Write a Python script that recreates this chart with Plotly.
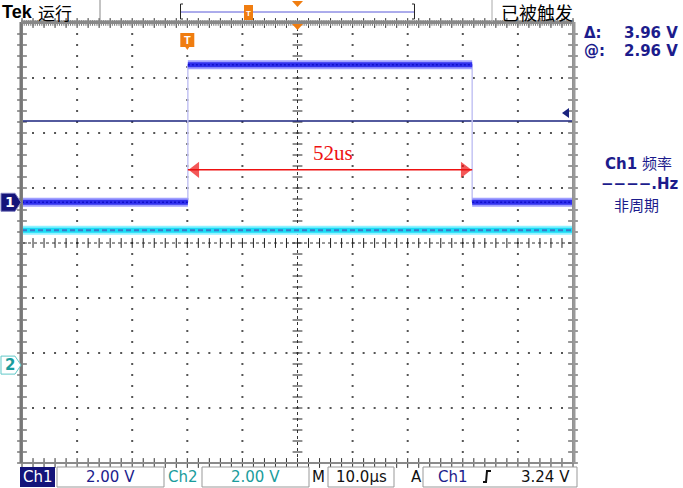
import numpy as np
import plotly.graph_objects as go

W, H = 683, 488
# ---------------- data ----------------
time_per_div_us = 10.0
volt_per_div = 2.0
ch1_edges_us = [-50.0, -19.9, 31.7, 50.0]      # segment boundaries of Ch1
ch1_levels_v = [0.0, 5.0, 0.0]                  # Ch1 level in each segment
ch1_offset_div = 0.74
ch2_span_us = [-50.0, 50.0]
ch2_level_v = 4.9
ch2_offset_div = -2.22
trigger_time_us = -20.0
trigger_level_v = 3.24
cursor_level_v = 2.96
pulse_start_us, pulse_end_us = -19.9, 31.7
pulse_label = "52us"
readout_delta = "3.96 V"
readout_at = "2.96 V"
ch1_scale_lbl = "2.00 V"
ch2_scale_lbl = "2.00 V"
time_scale_lbl = "10.0µs"
trig_lbl = "3.24 V"

# plot area in pixels
PL, PR, PT, PB = 22, 573, 23, 463


def px(x):
    return x / W


def py(y):
    return 1 - y / H


def ydiv(v, off):
    return v / volt_per_div + off


NAVY = "#1c1c8c"
TEAL = "#1a9c9c"
ORANGE = "#f07d10"

fig = go.Figure()

# ---------------- graticule ----------------
gx, gy = [], []
for i in range(-4, 5):
    if i == 0:
        continue
    for k in np.arange(-4, 4.001, 0.2):
        gx.append(i * time_per_div_us)
        gy.append(k)
for j in range(-3, 4):
    if j == 0:
        continue
    for k in np.arange(-50, 50.001, 2):
        gx.append(k)
        gy.append(j)
fig.add_trace(go.Scatter(x=gx, y=gy, mode="markers",
                         marker=dict(symbol="square", size=2, color="#555", line=dict(width=0)),
                         hoverinfo="skip"))
# center cross: dotted lines
fig.add_trace(go.Scatter(x=[0, 0], y=[-4, 4], mode="lines",
                         line=dict(color="#333", width=1, dash="dot"), hoverinfo="skip"))
fig.add_trace(go.Scatter(x=[-50, 50], y=[0, 0], mode="lines",
                         line=dict(color="#333", width=1, dash="dot"), hoverinfo="skip"))
cy = list(np.arange(-4, 4.001, 0.2))
fig.add_trace(go.Scatter(x=[0] * len(cy), y=cy, mode="markers",
                         marker=dict(symbol="line-ew", size=7, line=dict(color="#222", width=1)),
                         hoverinfo="skip"))
cx = list(np.arange(-50, 50.001, 2))
fig.add_trace(go.Scatter(x=cx, y=[0] * len(cx), mode="markers",
                         marker=dict(symbol="line-ns", size=7, line=dict(color="#222", width=1)),
                         hoverinfo="skip"))
# border ticks
fx = list(np.arange(-50, 50.001, 2))
fig.add_trace(go.Scatter(x=fx + fx, y=[4] * len(fx) + [-4] * len(fx), mode="markers",
                         marker=dict(symbol="line-ns", size=7, line=dict(color="#333", width=1)),
                         hoverinfo="skip", cliponaxis=False))
fine = list(np.arange(-50, 50.001, 0.4))
fig.add_trace(go.Scatter(x=fine, y=[4] * len(fine), mode="markers",
                         marker=dict(symbol="line-ns", size=4, line=dict(color="#777", width=1)),
                         hoverinfo="skip", cliponaxis=False))
fig.add_trace(go.Scatter(x=[-50] * len(cy) + [50] * len(cy), y=cy + cy, mode="markers",
                         marker=dict(symbol="line-ew", size=7, line=dict(color="#333", width=1)),
                         hoverinfo="skip", cliponaxis=False))

# ---------------- cursor line (@ level) ----------------
cur_y = ydiv(cursor_level_v, ch1_offset_div)
fig.add_trace(go.Scatter(x=[-50, 50], y=[cur_y, cur_y], mode="lines",
                         line=dict(color="#1a237e", width=1.5), hoverinfo="skip"))

# ---------------- Ch2 trace ----------------
c2y = ydiv(ch2_level_v, ch2_offset_div)
fig.add_trace(go.Scatter(x=ch2_span_us, y=[c2y, c2y], mode="lines",
                         line=dict(color="#8ff2ff", width=9), hoverinfo="skip"))
fig.add_trace(go.Scatter(x=ch2_span_us, y=[c2y, c2y], mode="lines",
                         line=dict(color="#18dcf6", width=5), hoverinfo="skip"))
fig.add_trace(go.Scatter(x=ch2_span_us, y=[c2y, c2y], mode="lines",
                         line=dict(color="#3a78c8", width=2, dash="5px,3px"), hoverinfo="skip"))

# ---------------- Ch1 trace ----------------
# faint edges
for k in range(1, len(ch1_edges_us) - 1):
    t = ch1_edges_us[k]
    fig.add_trace(go.Scatter(x=[t, t],
                             y=[ydiv(ch1_levels_v[k - 1], ch1_offset_div), ydiv(ch1_levels_v[k], ch1_offset_div)],
                             mode="lines", line=dict(color="#c4c4f4", width=1.5), hoverinfo="skip"))
for k in range(len(ch1_levels_v)):
    xs = [ch1_edges_us[k], ch1_edges_us[k + 1]]
    yv = ydiv(ch1_levels_v[k], ch1_offset_div)
    fig.add_trace(go.Scatter(x=xs, y=[yv, yv], mode="lines",
                             line=dict(color="#a0a0ff", width=9), hoverinfo="skip"))
    fig.add_trace(go.Scatter(x=xs, y=[yv, yv], mode="lines",
                             line=dict(color="#3030ee", width=5), hoverinfo="skip"))
    fig.add_trace(go.Scatter(x=xs, y=[yv, yv], mode="lines",
                             line=dict(color="#1010c8", width=1.5, dash="2px,2px"), hoverinfo="skip"))

# ---------------- measurement arrow ----------------
arr_y = 1.33
fig.add_trace(go.Scatter(x=[pulse_start_us, pulse_end_us], y=[arr_y, arr_y], mode="lines",
                         line=dict(color="#ee1111", width=1.5), hoverinfo="skip"))
fig.add_trace(go.Scatter(x=[pulse_start_us + 1.4, pulse_end_us - 1.4], y=[arr_y, arr_y], mode="markers",
                         marker=dict(symbol=["triangle-left", "triangle-right"], size=[14, 14],
                                     color="#ee1111", line=dict(width=0)),
                         hoverinfo="skip"))

fig.add_annotation(x=(pulse_start_us + pulse_end_us) / 2 + 0.5, y=arr_y + 0.05, xref="x", yref="y",
                   text=pulse_label, showarrow=False, yanchor="bottom",
                   font=dict(family="Liberation Serif, DejaVu Serif", size=21, color="#ee1111"))

shapes = []
# border
shapes.append(dict(type="rect", xref="paper", yref="paper", x0=px(PL), x1=px(PR), y0=py(PB), y1=py(PT),
                   line=dict(color="#8a8a8a", width=2)))
shapes.append(dict(type="line", xref="paper", yref="paper", x0=px(PL - 1), x1=px(PL - 1), y0=py(PB), y1=py(PT - 1),
                   line=dict(color="#777", width=3)))
shapes.append(dict(type="line", xref="paper", yref="paper", x0=px(PL - 1), x1=px(PR + 1), y0=py(PT - 1), y1=py(PT - 1),
                   line=dict(color="#888", width=3)))
shapes.append(dict(type="line", xref="paper", yref="paper", x0=px(PR + 1), x1=px(PR + 1), y0=py(PB), y1=py(PT - 1),
                   line=dict(color="#999", width=3)))


def path_px(points):
    s = "M " + " L ".join(f"{px(x):.5f},{py(y):.5f}" for x, y in points) + " Z"
    return s


# trigger level arrow on right
shapes.append(dict(type="path", xref="paper", yref="paper",
                   path=path_px([(562, 113), (569, 108), (569, 118)]),
                   fillcolor="#1a237e", line=dict(width=0)))
# Ch1 ground marker
y1m = (PT + PB) / 2 - ch1_offset_div * 55
shapes.append(dict(type="path", xref="paper", yref="paper",
                   path=path_px([(1, y1m - 9), (15, y1m - 9), (21, y1m), (15, y1m + 9), (1, y1m + 9)]),
                   fillcolor="#14147a", line=dict(color="#8080c0", width=1)))
y2m = (PT + PB) / 2 - ch2_offset_div * 55
shapes.append(dict(type="path", xref="paper", yref="paper",
                   path=path_px([(1, y2m - 9), (15, y2m - 9), (21, y2m), (15, y2m + 9), (1, y2m + 9)]),
                   fillcolor="white", line=dict(color="#60c8c8", width=1)))
# trigger T marker in plot
tx = 297.5 + trigger_time_us / time_per_div_us * 55.1
shapes.append(dict(type="path", xref="paper", yref="paper",
                   path=path_px([(tx - 7, 33), (tx + 7, 33), (tx + 7, 47), (tx + 2, 47), (tx, 50), (tx - 2, 47), (tx - 7, 47)]),
                   fillcolor=ORANGE, line=dict(width=0)))
# orange triangle at top center of plot
shapes.append(dict(type="path", xref="paper", yref="paper",
                   path=path_px([(292, 24), (303, 24), (297.5, 30)]),
                   fillcolor=ORANGE, line=dict(width=0)))
# header
shapes.append(dict(type="line", xref="paper", yref="paper", x0=px(100), x1=px(100), y0=py(0), y1=py(21),
                   line=dict(color="#888", width=1)))
shapes.append(dict(type="line", xref="paper", yref="paper", x0=px(492), x1=px(492), y0=py(0), y1=py(22),
                   line=dict(color="#aaa", width=1)))
shapes.append(dict(type="line", xref="paper", yref="paper", x0=px(181), x1=px(414), y0=py(12), y1=py(12),
                   line=dict(color="#5858d8", width=1)))
shapes.append(dict(type="path", xref="paper", yref="paper",
                   path=f"M {px(183):.5f},{py(4):.5f} L {px(180.5):.5f},{py(4):.5f} L {px(180.5):.5f},{py(19):.5f} L {px(183):.5f},{py(19):.5f}",
                   line=dict(color="#222", width=1)))
shapes.append(dict(type="path", xref="paper", yref="paper",
                   path=f"M {px(412):.5f},{py(4):.5f} L {px(414.5):.5f},{py(4):.5f} L {px(414.5):.5f},{py(19):.5f} L {px(412):.5f},{py(19):.5f}",
                   line=dict(color="#222", width=1)))
shapes.append(dict(type="rect", xref="paper", yref="paper", x0=px(244), x1=px(253), y0=py(20), y1=py(5),
                   fillcolor=ORANGE, line=dict(width=0)))
shapes.append(dict(type="path", xref="paper", yref="paper",
                   path=path_px([(292, 1), (303, 1), (297.5, 7)]),
                   fillcolor=ORANGE, line=dict(width=0)))
# bottom boxes
shapes.append(dict(type="rect", xref="paper", yref="paper", x0=px(20), x1=px(55), y0=py(487), y1=py(467),
                   fillcolor="#14147a", line=dict(width=0)))
for x0, x1 in [(57, 164), (202, 309), (328, 394), (423, 577)]:
    shapes.append(dict(type="rect", xref="paper", yref="paper", x0=px(x0), x1=px(x1), y0=py(487), y1=py(467),
                       fillcolor="white", line=dict(color="#999", width=1)))
# trigger slope symbol
shapes.append(dict(type="path", xref="paper", yref="paper",
                   path=f"M {px(483):.5f},{py(482):.5f} L {px(486):.5f},{py(482):.5f} L {px(487):.5f},{py(471):.5f} L {px(491):.5f},{py(471):.5f}",
                   line=dict(color="#111", width=2)))

fig.update_layout(shapes=shapes)

FONT = "DejaVu Sans, Liberation Sans"
CJK = "Noto Sans CJK SC"


def txt(x, y, s, size=14, color="#000", xanchor="left", family=FONT, yanchor="middle"):
    fig.add_annotation(x=px(x), y=py(y), xref="paper", yref="paper", text=s, showarrow=False,
                       xanchor=xanchor, yanchor=yanchor, font=dict(family=family, size=size, color=color))


# header texts
txt(0, 12, "<b>Tek</b>", size=18, family="Liberation Sans, Arial")
txt(36, 12, "运行", size=17, family=CJK)
txt(499, 12, "已被触发", size=18, family=CJK)
# trigger T letters
txt(tx, 40, "<b>T</b>", size=11, color="white", xanchor="center", family="Liberation Sans")
txt(248.5, 13, "<b>T</b>", size=8, color="white", xanchor="center", family="Liberation Sans")
# channel markers
txt(10, y1m, "<b>1</b>", size=14, color="white", xanchor="center")
txt(10, y2m, "<b>2</b>", size=15, color=TEAL, xanchor="center")
# right panel
txt(582, 33, "<b>Δ:</b>", size=15, color=NAVY)
txt(680, 33, "<b>" + readout_delta + "</b>", size=15, color=NAVY, xanchor="right")
txt(582, 51, "<b>@:</b>", size=15, color=NAVY)
txt(680, 51, "<b>" + readout_at + "</b>", size=15, color=NAVY, xanchor="right")
txt(638, 164, "<b>Ch1</b> 频率", size=15, color=NAVY, xanchor="center", family="DejaVu Sans, Noto Sans CJK SC")
txt(640, 184, "<b>−−−−.Hz</b>", size=15, color=NAVY, xanchor="center")
txt(636, 204, "非周期", size=15, color=NAVY, xanchor="center", family=CJK)
# bottom bar
txt(37.5, 477, "Ch1", size=15, color="white", xanchor="center")
txt(110, 477, ch1_scale_lbl, size=15, color=NAVY, xanchor="center")
txt(183, 477, "Ch2", size=15, color=TEAL, xanchor="center")
txt(255, 477, ch2_scale_lbl, size=15, color=TEAL, xanchor="center")
txt(318, 477, "M", size=15, color="#111", xanchor="center")
txt(361, 477, time_scale_lbl, size=15, color="#111", xanchor="center")
txt(416, 477, "A", size=15, color="#111", xanchor="center")
txt(453, 477, "Ch1", size=15, color=NAVY, xanchor="center")
txt(572, 477, trig_lbl, size=15, color="#111", xanchor="right")

fig.update_layout(
    width=W, height=H, margin=dict(l=0, r=0, t=0, b=0, pad=0),
    paper_bgcolor="white", plot_bgcolor="white", showlegend=False,
    xaxis=dict(domain=[px(PL), px(PR)], range=[-50, 50], visible=False, fixedrange=True),
    yaxis=dict(domain=[py(PB), py(PT)], range=[-4, 4], visible=False, fixedrange=True),
)

fig.write_html("out.html", config={"displayModeBar": False},
               post_script="document.body.style.margin='0px';")
